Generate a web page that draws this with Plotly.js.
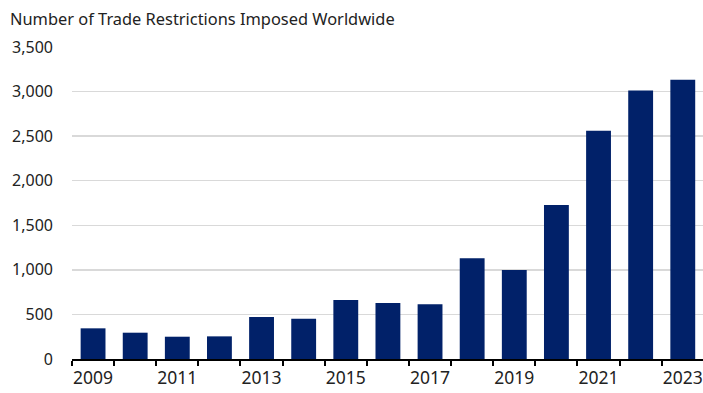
<!DOCTYPE html>
<html>
<head>
<meta charset="utf-8">
<script src="https://cdn.plot.ly/plotly-3.0.1.min.js"></script>
<style>html,body{margin:0;padding:0;background:#fff;}#chart{width:703px;height:393px;}</style>
</head>
<body>
<div id="chart"></div>
<script>
const years = ["2009","2010","2011","2012","2013","2014","2015","2016","2017","2018","2019","2020","2021","2022","2023"];
const restrictions = [344, 295, 250, 254, 470, 451, 661, 627, 613, 1131, 997, 1728, 2561, 3013, 3133];
const xTickLabels = ["2009","","2011","","2013","","2015","","2017","","2019","","2021","","2023"];
const yTickVals = [0, 500, 1000, 1500, 2000, 2500, 3000, 3500];
const chartTitle = "Number of Trade Restrictions Imposed Worldwide";

const trace = {
  type: "bar",
  x: years,
  y: restrictions,
  marker: {color: "#012169", line: {width: 0}},
  hoverinfo: "x+y"
};

const layout = {
  width: 703,
  height: 393,
  margin: {l: 72, r: 0, t: 47, b: 34, pad: 0},
  paper_bgcolor: "#ffffff",
  plot_bgcolor: "#ffffff",
  font: {family: "Noto Sans, sans-serif", size: 16, color: "#222222"},
  title: {
    text: chartTitle,
    x: 10 / 703, xref: "container", xanchor: "left",
    y: 0.95, yref: "container", yanchor: "middle",
    font: {size: 16.4, color: "#222222"}
  },
  bargap: 0.41,
  showlegend: false,
  xaxis: {
    type: "category",
    range: [-0.5, 14.48],
    tickmode: "array",
    tickvals: years,
    ticktext: xTickLabels,
    tickangle: 0,
    tickfont: {size: 17.5},
    ticklabelstandoff: 2,
    automargin: false,
    tickson: "boundaries",
    ticks: "outside",
    ticklen: 5,
    tickwidth: 2,
    tickcolor: "#000000",
    showline: true,
    linecolor: "#000000",
    linewidth: 2,
    showgrid: false,
    zeroline: false,
    fixedrange: true
  },
  yaxis: {
    range: [0, 3500],
    tickmode: "array",
    tickvals: yTickVals,
    tickformat: ",d",
    automargin: false,
    showgrid: true,
    gridcolor: "#d9d9d9",
    gridwidth: 1.5,
    zeroline: false,
    showline: false,
    ticks: "",
    ticklabelstandoff: 18,
    fixedrange: true
  }
};

Plotly.newPlot("chart", [trace], layout, {displayModeBar: false, staticPlot: true});
</script>
</body>
</html>
